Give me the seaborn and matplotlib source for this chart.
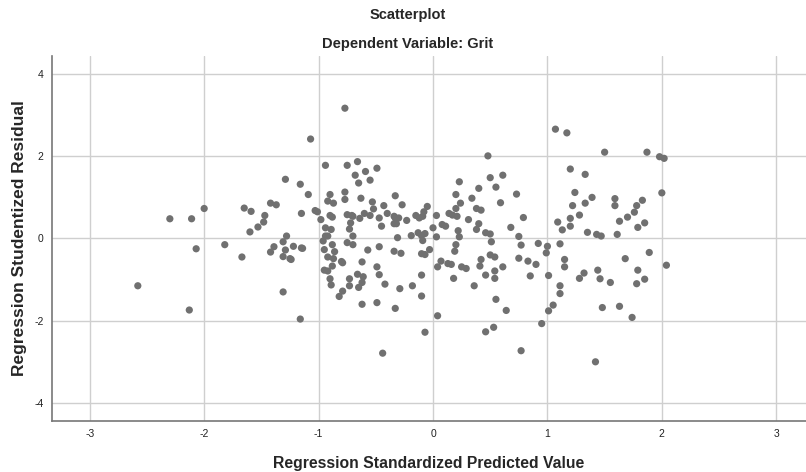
import matplotlib
matplotlib.use("Agg")
import matplotlib.pyplot as plt
import seaborn as sns
import pandas as pd

# Standardized predicted values (x) and studentized residuals (y)
pred_left = [-2.30, -2.11, -2.00, -1.65, -1.59, -1.60, -2.07, -1.82, -1.67, -2.58, -2.13]
resid_left = [0.48, 0.48, 0.73, 0.74, 0.66, 0.16, -0.25, -0.15, -0.45, -1.15, -1.74]

pred_upper_mid = [-0.77, -1.07, -0.94, -0.75, -0.66, -0.59, -0.49, -0.68, -0.55, -0.65,
                  -1.29, -1.16, -1.09, -0.77, -0.77, -0.90, -0.92, -0.87, -0.63, -0.53,
                  -0.33, -0.43, -0.27, -0.05, -1.42, -1.37, -1.47, -1.48, -1.53, -1.28,
                  -1.15, -1.03, -1.01, -0.98, -0.90, -0.88, -0.94, -0.89, -0.94, -0.92,
                  -0.75, -0.71, -0.70, -0.72, -0.73, -0.70, -0.64, -0.60, -0.55, -0.52,
                  -0.47, -0.45, -0.40, -0.34, -0.33, -0.30, -0.34, -0.32, -0.23, -0.15,
                  -0.12, -0.09, -0.08, 0.03, 0.00, -0.31, -0.19, -0.13, -0.10, -0.07, 0.03]
resid_upper_mid = [3.17, 2.42, 1.78, 1.78, 1.87, 1.63, 1.71, 1.54, 1.42, 1.35,
                   1.44, 1.32, 1.07, 1.13, 0.95, 1.07, 0.91, 0.86, 0.98, 0.89,
                   1.04, 0.80, 0.82, 0.78, 0.86, 0.82, 0.56, 0.40, 0.28, 0.06,
                   0.61, 0.68, 0.65, 0.46, 0.56, 0.52, 0.26, 0.22, 0.06, 0.06,
                   0.58, 0.56, 0.54, 0.38, 0.23, 0.06, 0.49, 0.61, 0.56, 0.72,
                   0.50, 0.30, 0.61, 0.54, 0.50, 0.50, 0.36, 0.36, 0.44, 0.56,
                   0.50, 0.54, 0.65, 0.56, 0.26, 0.02, 0.07, 0.14, 0.07, 0.12, 0.04]

pred_lower_mid = [-1.31, -1.39, -1.42, -1.29, -1.22, -1.15, -1.14, -1.31, -1.25, -1.24,
                  -1.31, -1.16, -0.96, -0.88, -0.95, -0.86, -0.92, -0.87, -0.80, -0.79,
                  -0.88, -0.95, -0.92, -0.90, -0.89, -0.82, -0.79, -0.73, -0.73, -0.66,
                  -0.61, -0.65, -0.62, -0.62, -0.62, -0.75, -0.70, -0.57, -0.47, -0.49,
                  -0.47, -0.42, -0.49, -0.33, -0.44, -0.34, -0.28, -0.29, -0.18, -0.10,
                  -0.10, -0.07, -0.10, -0.07, -0.03, -0.09, 0.04, 0.07, 0.04]
resid_lower_mid = [-0.08, -0.20, -0.33, -0.28, -0.19, -0.23, -0.24, -0.44, -0.49, -0.51,
                   -1.30, -1.96, -0.06, -0.15, -0.27, -0.32, -0.45, -0.49, -0.56, -0.59,
                   -0.67, -0.77, -0.79, -0.98, -1.13, -1.41, -1.28, -0.98, -1.15, -0.87,
                   -0.93, -1.19, -1.07, -1.60, -0.57, -0.10, -0.15, -0.28, -0.20, -0.69,
                   -0.88, -1.11, -1.56, -1.70, -2.79, -0.31, -0.36, -1.22, -1.15, -0.89,
                   -1.40, -2.28, -0.37, -0.39, -0.27, -0.05, -0.69, -0.55, -1.88]

pred_upper_right = [1.07, 1.17, 1.50, 0.48, 1.20, 1.33, 0.23, 0.50, 0.61, 0.40,
                    0.55, 0.73, 0.20, 0.34, 0.24, 0.59, 1.24, 1.39, 1.33, 1.22,
                    1.59, 1.59, 1.78, 0.20, 0.14, 0.17, 0.21, 0.38, 0.42, 0.31,
                    0.40, 0.38, 0.08, 0.11, 0.22, 0.23, 0.46, 0.50, 0.68, 0.79,
                    0.75, 1.09, 1.20, 1.20, 1.13, 1.28, 1.35, 1.43, 1.47, 1.63,
                    1.61, 1.70, 1.76, 1.79,
                    1.87, 1.98, 2.02, 2.00, 1.83, 1.85]
resid_upper_right = [2.66, 2.57, 2.10, 2.01, 1.69, 1.56, 1.38, 1.48, 1.54, 1.22,
                     1.25, 1.08, 1.07, 0.98, 0.86, 0.87, 1.12, 1.00, 0.86, 0.80,
                     0.97, 0.80, 0.80, 0.73, 0.61, 0.57, 0.54, 0.73, 0.69, 0.46,
                     0.36, 0.22, 0.34, 0.30, 0.19, 0.04, 0.14, 0.11, 0.27, 0.51,
                     0.05, 0.40, 0.49, 0.30, 0.21, 0.57, 0.15, 0.10, 0.06, 0.42,
                     0.10, 0.52, 0.64, 0.27,
                     2.10, 1.99, 1.95, 1.11, 0.93, 0.38]

pred_lower_right = [0.20, 0.19, 0.13, 0.16, 0.25, 0.29, 0.18, 0.36, 0.42, 0.41,
                    0.50, 0.54, 0.51, 0.54, 0.54, 0.46, 0.61, 0.55, 0.64, 0.46,
                    0.53, 0.77, 0.77, 0.75, 0.83, 0.90, 0.85, 0.92, 1.00, 0.99,
                    1.01, 0.95, 1.11, 1.15, 1.15, 1.11, 1.11, 1.05, 1.01, 1.28,
                    1.32, 1.44, 1.46, 1.55, 1.48, 1.63, 1.74, 1.42, 1.68, 1.79,
                    1.78, 1.89, 2.04, 1.85]
resid_lower_right = [-0.15, -0.31, -0.61, -0.63, -0.69, -0.73, -0.97, -1.15, -0.51, -0.67,
                     -0.40, -0.45, -0.08, -0.79, -0.97, -0.89, -0.69, -1.48, -1.75, -2.27,
                     -2.16, -2.73, -0.16, -0.48, -0.55, -0.63, -0.91, -0.12, -0.19, -0.35,
                     -0.90, -2.07, -0.13, -0.51, -0.69, -1.15, -1.34, -1.62, -1.76, -0.97,
                     -0.84, -0.77, -0.98, -1.07, -1.68, -1.65, -1.92, -3.00, -0.49, -0.77,
                     -1.10, -0.34, -0.65, -0.99]

x_ticks = [-3, -2, -1, 0, 1, 2, 3]
y_ticks = [-4, -2, 0, 2, 4]

df = pd.DataFrame({
    "pred": pred_left + pred_upper_mid + pred_lower_mid + pred_upper_right + pred_lower_right,
    "resid": resid_left + resid_upper_mid + resid_lower_mid + resid_upper_right + resid_lower_right,
})

sns.set_style("white")
plt.rcParams["font.family"] = ["Liberation Sans", "DejaVu Sans"]
plt.rcParams["axes.unicode_minus"] = False  # plain hyphen like the SPSS output

fig = plt.figure(figsize=(8.06, 4.72), dpi=100)
ax = fig.add_axes([52 / 806, 1 - 421 / 472, 1 - 52 / 806, (421 - 56) / 472])

sns.scatterplot(data=df, x="pred", y="resid", ax=ax, color="#707070",
                s=27, edgecolor="none", zorder=3)

ax.set_xlim(-3.33, 3.26)
ax.set_ylim(-4.44, 4.44)
ax.set_xticks(x_ticks)
ax.set_yticks(y_ticks)
ax.grid(True, color="#cfcfcf", linewidth=1.0, zorder=0)
ax.set_axisbelow(True)
ax.tick_params(axis="both", length=0, labelsize=7.5, pad=6, colors="#222222")

for side in ["top", "right"]:
    ax.spines[side].set_visible(False)
for side in ["left", "bottom"]:
    ax.spines[side].set_color("#777777")
    ax.spines[side].set_linewidth(1.2)

ax.set_xlabel("Regression Standardized Predicted Value", fontsize=11.3,
              fontweight="bold", labelpad=12)
ax.set_ylabel("Regression Studentized Residual", fontsize=12.5,
              fontweight="bold", labelpad=5)

fig.text(408 / 806, 1 - 15 / 472, "Scatterplot", ha="center", va="center",
         fontsize=10.5, fontweight="bold")
fig.text(408 / 806, 1 - 44 / 472, "Dependent Variable: Grit", ha="center",
         va="center", fontsize=10.5, fontweight="bold")

fig.savefig("out.png", dpi=100)
